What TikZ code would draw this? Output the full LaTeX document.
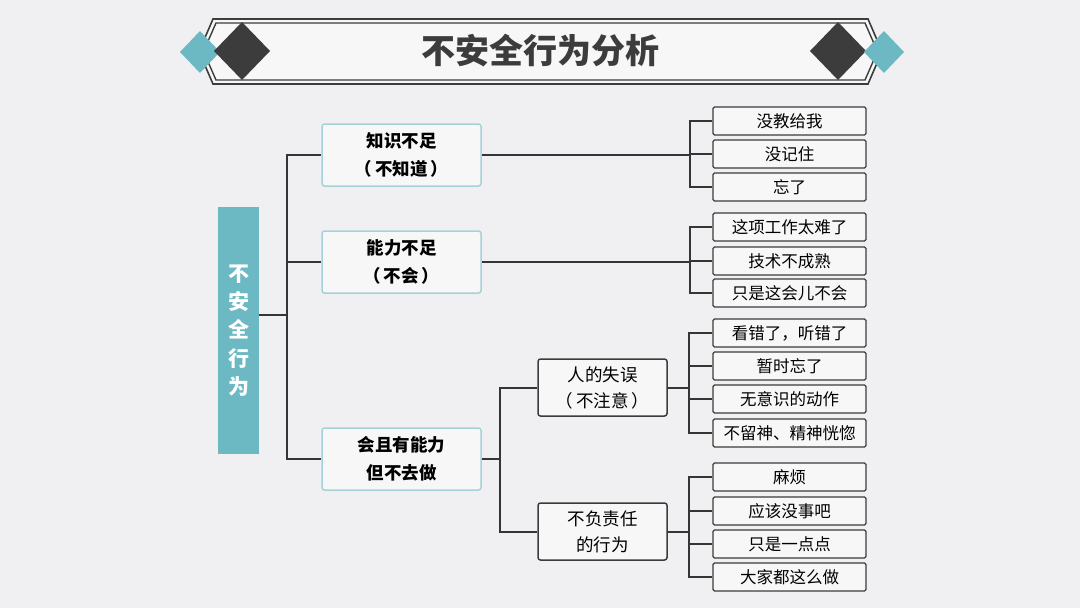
\documentclass[tikz,border=0pt]{standalone}
\usepackage{fontspec}
\setmainfont{Noto Sans CJK SC}
\usepackage{xcolor}
\usepackage{tikz}
\usetikzlibrary{positioning,calc}
\definecolor{bggray}{HTML}{F0F0F2}
\definecolor{boxfill}{HTML}{F7F7F8}
\definecolor{tealc}{HTML}{6DB9C3}
\definecolor{lightteal}{HTML}{A3D3D8}
\definecolor{darkc}{HTML}{3C3C3C}
\definecolor{wirec}{HTML}{353535}

\begin{document}
\begin{tikzpicture}[x=1pt, y=-1pt,
  wire/.style={draw=wirec, line width=2pt},
  rootbox/.style={fill=tealc, text=white, minimum width=41pt, minimum height=247pt, align=center, inner sep=0pt,
    font=\fontsize{21}{28.3}\selectfont\bfseries},
  lvlone/.style={draw=lightteal, line width=1.5pt, fill=boxfill, rounded corners=2.5pt, minimum width=159pt,
    minimum height=62pt, align=center, inner sep=0pt, font=\fontsize{17.5}{28}\selectfont\bfseries},
  lvltwo/.style={draw=darkc, line width=1.5pt, fill=boxfill, rounded corners=2.5pt, minimum width=129pt,
    minimum height=57pt, align=center, inner sep=0pt, font=\fontsize{17.5}{26}\selectfont},
  leaf/.style={draw=darkc, line width=1.3pt, fill=boxfill, rounded corners=1.5pt, minimum width=153pt,
    minimum height=28pt, inner sep=0pt, font=\fontsize{16.5}{16.5}\selectfont}]
\fill[bggray] (0,0) rectangle (1080,608);
% banner
\filldraw[fill=boxfill, draw=darkc, line width=1.6pt] (213,19) -- (868,19) -- (882,51.5) -- (868,84) -- (213,84) -- (199,51.5) -- cycle;
\draw[darkc, line width=1.4pt] (216,23) -- (865,23) -- (877.5,51.5) -- (865,80) -- (216,80) -- (203.5,51.5) -- cycle;
\fill[tealc] (180,52) -- (200,31) -- (220,52) -- (200,73) -- cycle;
\fill[darkc] (242,22) -- (270,51) -- (242,80) -- (214,51) -- cycle;
\fill[darkc] (838,22) -- (866,51) -- (838,80) -- (810,51) -- cycle;
\fill[tealc] (884,31) -- (904,52) -- (884,73) -- (864,52) -- cycle;
\node[text=darkc, font=\fontsize{34}{34}\selectfont\bfseries] (title) at (540,51) {不安全行为分析};
% tree
\node[rootbox] (root) at (238.5,330.5) {不\\安\\全\\行\\为};
\node[lvlone] (k1) at (401.5,155) {知识不足\\（\,不知道\,）};
\node[lvlone] (k2) at (401.5,262) {能力不足\\（\,不会\,）};
\node[lvlone] (k3) at (401.5,459) {会且有能力\\但不去做};
\node[lvltwo] (m1) at (602.5,387.5) {人的失误\\（\,不注意\,）};
\node[lvltwo] (m2) at (602.5,531.5) {不负责任\\的行为};
\node[leaf] (a1) at (789.5,121) {没教给我};
\node[leaf] (a2) at (789.5,154) {没记住};
\node[leaf] (a3) at (789.5,187) {忘了};
\node[leaf] (b1) at (789.5,227) {这项工作太难了};
\node[leaf] (b2) at (789.5,261) {技术不成熟};
\node[leaf] (b3) at (789.5,293) {只是这会儿不会};
\node[leaf] (c1) at (789.5,333) {看错了，听错了};
\node[leaf] (c2) at (789.5,366) {暂时忘了};
\node[leaf] (c3) at (789.5,399) {无意识的动作};
\node[leaf] (c4) at (789.5,433) {不留神、精神恍惚};
\node[leaf] (d1) at (789.5,477) {麻烦};
\node[leaf] (d2) at (789.5,511) {应该没事吧};
\node[leaf] (d3) at (789.5,544) {只是一点点};
\node[leaf] (d4) at (789.5,577) {大家都这么做};
\coordinate (trunk) at (287,315);
\coordinate (ja) at (690,155);
\coordinate (jb) at (690,262);
\coordinate (jk) at (500,459);
\coordinate (jc) at (689,387.5);
\coordinate (jd) at (689,531.5);
\draw[wire] (root.east |- trunk) -- (trunk);
\draw[wire] (k1.west) -| (trunk) |- (k3.west);
\draw[wire] (k2.west) -- (k2.west -| trunk);
\draw[wire] (k1.east) -- (ja);
\draw[wire] (a1.west) -| (ja) |- (a3.west);
\draw[wire] (a2.west) -- (a2.west -| ja);
\draw[wire] (k2.east) -- (jb);
\draw[wire] (b1.west) -| (jb) |- (b3.west);
\draw[wire] (b2.west) -- (b2.west -| jb);
\draw[wire] (k3.east) -- (jk);
\draw[wire] (m1.west) -| (jk) |- (m2.west);
\draw[wire] (m1.east) -- (jc);
\draw[wire] (c1.west) -| (jc) |- (c4.west);
\draw[wire] (c2.west) -- (c2.west -| jc);
\draw[wire] (c3.west) -- (c3.west -| jc);
\draw[wire] (m2.east) -- (jd);
\draw[wire] (d1.west) -| (jd) |- (d4.west);
\draw[wire] (d2.west) -- (d2.west -| jd);
\draw[wire] (d3.west) -- (d3.west -| jd);
\end{tikzpicture}
\end{document}
